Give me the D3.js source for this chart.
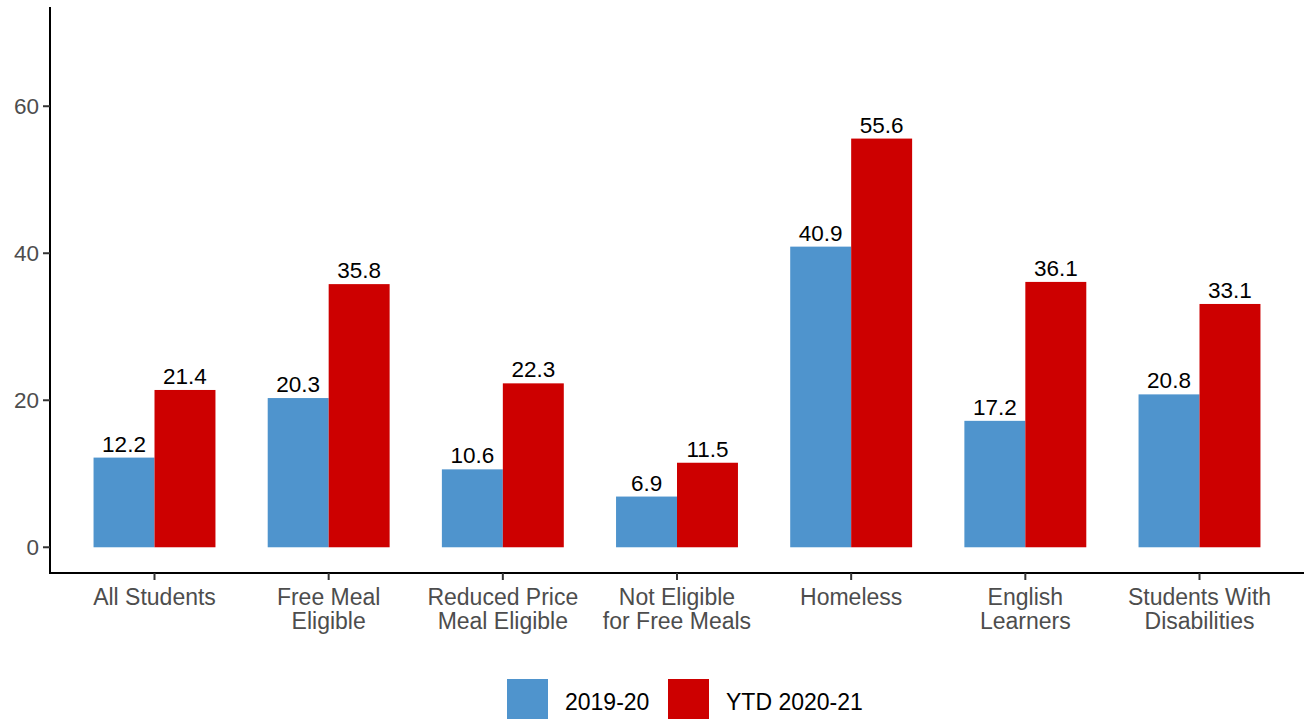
<!DOCTYPE html>
<html>
<head>
<meta charset="utf-8">
<script src="https://cdn.jsdelivr.net/npm/d3@7"></script>
<style>
body { margin: 0; background: #fff; }
text { font-family: "Liberation Sans", Arial, sans-serif; }
</style>
</head>
<body>
<div id="chart"></div>
<script>
// data
var categories = [["All Students"], ["Free Meal", "Eligible"], ["Reduced Price", "Meal Eligible"], ["Not Eligible", "for Free Meals"], ["Homeless"], ["English", "Learners"], ["Students With", "Disabilities"]]
var series = ["2019-20", "YTD 2020-21"]
var values2019 = [12.2, 20.3, 10.6, 6.9, 40.9, 17.2, 20.8]
var values2020 = [21.4, 35.8, 22.3, 11.5, 55.6, 36.1, 33.1]
var yTicks = [0, 20, 40, 60]

var colors = ["#4F94CD", "#CD0000"]
var W = 1304, H = 719
var margin = { top: 7, left: 50, right: 0, bottom: 146 }
var svg = d3.select("#chart").append("svg").attr("width", W).attr("height", H)

// discrete axis with 0.6 unit padding on each side
var x = d3.scaleLinear().domain([-0.6, categories.length - 1 + 0.6]).range([margin.left, W - margin.right])
var barW = (x(1) - x(0)) * 0.7 / 2

var y = d3.scaleLinear().domain([-3.5, 73.5]).range([H - margin.bottom, margin.top])

var rows = []
categories.forEach(function(c, i) {
    rows.push({ i: i, s: 0, v: values2019[i] })
    rows.push({ i: i, s: 1, v: values2020[i] })
})

svg.selectAll("rect.bar").data(rows).enter().append("rect")
    .attr("class", "bar")
    .attr("x", function(d) { return x(d.i) - barW + d.s * barW })
    .attr("width", barW)
    .attr("y", function(d) { return y(d.v) })
    .attr("height", function(d) { return y(0) - y(d.v) })
    .attr("fill", function(d) { return colors[d.s] })

svg.selectAll("text.val").data(rows).enter().append("text")
    .attr("class", "val")
    .attr("x", function(d) { return x(d.i) - barW / 2 + d.s * barW })
    .attr("y", function(d) { return y(d.v) - 6 })
    .attr("text-anchor", "middle")
    .style("font-size", "22.5px")
    .attr("fill", "#000")
    .text(function(d) { return d.v.toFixed(1) })

// y axis
var yAxis = svg.append("g").attr("transform", "translate(" + margin.left + ",0)")
yAxis.append("line").attr("x1", 0).attr("x2", 0).attr("y1", margin.top).attr("y2", H - margin.bottom)
    .attr("stroke", "#000").attr("stroke-width", 2)
yTicks.forEach(function(t) {
    yAxis.append("line").attr("x1", -7).attr("x2", 0).attr("y1", y(t)).attr("y2", y(t))
        .attr("stroke", "#333").attr("stroke-width", 2)
    yAxis.append("text").attr("x", -11).attr("y", y(t)).attr("dy", "0.36em")
        .attr("text-anchor", "end").attr("fill", "#4d4d4d").style("font-size", "22.5px").text(t)
})

// x axis
var xAxis = svg.append("g").attr("transform", "translate(0," + (H - margin.bottom) + ")")
xAxis.append("line").attr("x1", margin.left - 1).attr("x2", W).attr("y1", 0).attr("y2", 0)
    .attr("stroke", "#000").attr("stroke-width", 2)
categories.forEach(function(c, i) {
    xAxis.append("line").attr("x1", x(i)).attr("x2", x(i)).attr("y1", 0).attr("y2", 7)
        .attr("stroke", "#333").attr("stroke-width", 2)
    var t = xAxis.append("text").attr("x", x(i)).attr("y", 32)
        .attr("text-anchor", "middle").attr("fill", "#4d4d4d").style("font-size", "23px")
    c.forEach(function(line, k) {
        t.append("tspan").attr("x", x(i)).attr("dy", k == 0 ? 0 : 24).text(line)
    })
})

// legend
var legendX = [507, 668]
series.forEach(function(s, i) {
    svg.append("rect").attr("x", legendX[i]).attr("y", 679).attr("width", 41).attr("height", 41)
        .attr("fill", colors[i])
    svg.append("text").attr("x", legendX[i] + 58).attr("y", 702).attr("dy", "0.36em")
        .style("font-size", "23px").attr("fill", "#000").text(s)
})
</script>
</body>
</html>
